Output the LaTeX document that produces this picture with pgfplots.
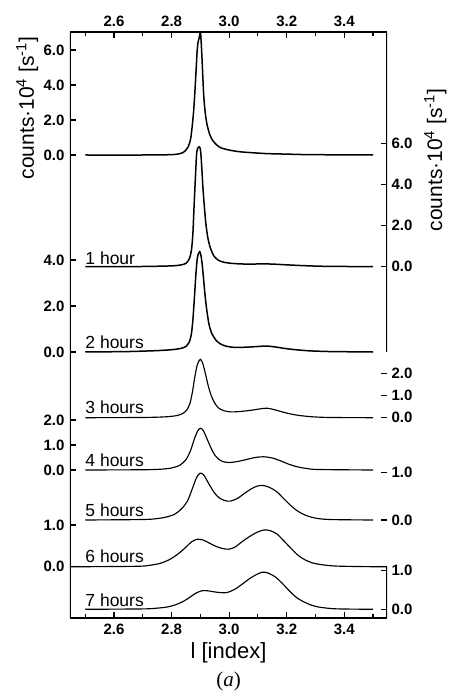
\documentclass[border=0pt]{standalone}
\usepackage{pgfplots}
\pgfplotsset{compat=1.18}
\usepackage{fontspec}
\setmainfont{Liberation Sans}
\newfontfamily\timesfont{Liberation Serif}
\pgfplotsset{
  base/.style={width=317pt,height=586pt,scale only axis,
    xmin=2.447,xmax=3.5485,at={(0pt,0pt)},anchor=south west,
    tick align=inside, major tick length=6.5pt, minor tick length=4pt,
    every tick/.style={black,line width=1.1pt},
    tick label style={font=\bfseries\fontsize{15}{15}\selectfont},
    yticklabel style={xshift=-2pt},
    xticklabel style={yshift=-2pt}},
  dataaxis/.style={base, separate axis lines,
    x axis line style={draw=none}, y axis line style={draw=none},
    xtick=\empty},
  leftlab/.style={ytick pos=left, yticklabel pos=left},
  rightlab/.style={ytick pos=right, yticklabel pos=right,
    yticklabel style={xshift=3pt}},
  curveA/.style={black, line width=1.5pt, smooth, tension=0.4},
  curveB/.style={black, line width=1.15pt, smooth, tension=0.5},
}
\begin{document}
\begin{tikzpicture}
% frame
\begin{axis}[base, separate axis lines,
  x axis line style={line width=1.2pt},
  y axis line style={draw=none}, ytick=\empty,
  ymin=0, ymax=586,
  xtick={2.6,2.8,3.0,3.2,3.4}, xticklabels={2.6,2.8,3.0,3.2,3.4},
  minor xtick={2.5,2.7,2.9,3.1,3.3,3.5},
  xtick pos=both, xticklabel pos=left]
  \draw[line width=1.2pt] (rel axis cs:0,0) -- (rel axis cs:0,1);
  \draw[line width=1.2pt] (rel axis cs:1,1) -- (rel axis cs:1,0.4539);
  \draw[line width=1.2pt] (rel axis cs:1,0.0875) -- (rel axis cs:1,0);
\end{axis}
% curve 0 (top)
\begin{axis}[dataaxis, leftlab, ymin=-26.457, ymax=7.029,
  ytick={0,2,4,6}, yticklabels={0.0,2.0,4.0,6.0},
  xtick={2.6,2.8,3.0,3.2,3.4}, xticklabels={2.6,2.8,3.0,3.2,3.4},
  xtick pos=right, xticklabel pos=right, xticklabel style={yshift=4pt}]
\addplot[curveA] coordinates {(2.50,0) (2.70,0) (2.80,0.02) (2.83,0.08) (2.845,0.2) (2.857,0.45) (2.866,0.9) (2.872,1.7) (2.877,2.6) (2.882,3.9) (2.886,5.1) (2.889,6.0) (2.892,6.45) (2.896,6.7) (2.900,7.05) (2.903,6.4) (2.906,5.4) (2.909,4.3) (2.912,3.3) (2.917,2.4) (2.923,1.75) (2.932,1.2) (2.942,0.85) (2.955,0.6) (2.97,0.42) (2.99,0.32) (3.01,0.25) (3.04,0.18) (3.08,0.13) (3.13,0.08) (3.20,0.05) (3.28,0.02) (3.5,0)};
\end{axis}
% 1 hour
\begin{axis}[dataaxis, rightlab, ymin=-17.053, ymax=11.393,
  ytick={0,2,4,6}, yticklabels={0.0,2.0,4.0,6.0}]
\addplot[curveA] coordinates {(2.50,0) (2.70,0.01) (2.80,0.04) (2.83,0.08) (2.85,0.16) (2.862,0.4) (2.869,0.8) (2.874,1.6) (2.878,2.9) (2.883,4.4) (2.887,5.5) (2.891,5.75) (2.897,5.82) (2.901,5.6) (2.905,4.8) (2.909,3.8) (2.914,2.9) (2.919,2.1) (2.926,1.4) (2.935,0.9) (2.947,0.52) (2.962,0.32) (2.98,0.22) (3.01,0.16) (3.05,0.13) (3.09,0.13) (3.12,0.14) (3.16,0.12) (3.20,0.09) (3.26,0.05) (3.33,0.02) (3.5,0)};
\node[anchor=base west, inner sep=0pt, font=\fontsize{17.5}{17.5}\selectfont] at (axis cs:2.5,0.13) {1 hour};
\end{axis}
% 2 hours
\begin{axis}[dataaxis, leftlab, ymin=-11.565, ymax=13.913,
  ytick={0,2,4}, yticklabels={0.0,2.0,4.0}]
\addplot[curveA] coordinates {(2.50,0) (2.65,0.02) (2.75,0.06) (2.80,0.1) (2.83,0.15) (2.85,0.24) (2.862,0.45) (2.869,0.8) (2.874,1.4) (2.879,2.3) (2.884,3.3) (2.889,4.05) (2.894,4.3) (2.898,4.36) (2.902,4.2) (2.906,3.85) (2.911,3.2) (2.916,2.5) (2.922,1.85) (2.93,1.2) (2.94,0.8) (2.955,0.5) (2.97,0.35) (2.99,0.25) (3.02,0.2) (3.06,0.21) (3.10,0.24) (3.13,0.26) (3.16,0.22) (3.19,0.16) (3.23,0.1) (3.28,0.05) (3.35,0.02) (3.5,0)};
\node[anchor=base west, inner sep=0pt, font=\fontsize{17.5}{17.5}\selectfont] at (axis cs:2.5,0.14) {2 hours};
\end{axis}
% 3 hours
\begin{axis}[dataaxis, rightlab, ymin=-8.982, ymax=17.296,
  ytick={0,1,2}, yticklabels={0.0,1.0,2.0}]
\addplot[curveB] coordinates {(2.50,0) (2.70,0.01) (2.78,0.04) (2.82,0.1) (2.84,0.2) (2.855,0.38) (2.865,0.7) (2.873,1.2) (2.881,1.85) (2.89,2.4) (2.90,2.62) (2.909,2.4) (2.918,1.95) (2.927,1.45) (2.936,1.05) (2.948,0.7) (2.962,0.45) (2.98,0.32) (3.005,0.26) (3.04,0.28) (3.08,0.34) (3.115,0.41) (3.135,0.42) (3.16,0.35) (3.19,0.24) (3.22,0.15) (3.25,0.09) (3.29,0.04) (3.35,0.01) (3.5,0)};
\node[anchor=base west, inner sep=0pt, font=\fontsize{17.5}{17.5}\selectfont] at (axis cs:2.5,0.17) {3 hours};
\end{axis}
% 4 hours
\begin{axis}[dataaxis, leftlab, ymin=-5.92, ymax=17.52,
  ytick={0,1,2}, yticklabels={0.0,1.0,2.0}]
\addplot[curveB] coordinates {(2.50,0) (2.70,0.01) (2.76,0.03) (2.80,0.08) (2.83,0.2) (2.85,0.42) (2.865,0.75) (2.878,1.2) (2.89,1.55) (2.90,1.67) (2.91,1.58) (2.923,1.25) (2.937,0.88) (2.95,0.6) (2.965,0.42) (2.98,0.33) (3.0,0.3) (3.03,0.34) (3.06,0.42) (3.09,0.5) (3.12,0.53) (3.15,0.48) (3.18,0.36) (3.21,0.22) (3.24,0.12) (3.27,0.06) (3.31,0.02) (3.5,0)};
\node[anchor=base west, inner sep=0pt, font=\fontsize{17.5}{17.5}\selectfont] at (axis cs:2.5,0.12) {4 hours};
\end{axis}
% 5 hours
\begin{axis}[dataaxis, rightlab, ymin=-2.072, ymax=10.317,
  ytick={0,1}, yticklabels={0.0,1.0}]
\addplot[curveB] coordinates {(2.50,0) (2.70,0.01) (2.75,0.03) (2.78,0.06) (2.81,0.12) (2.835,0.24) (2.855,0.4) (2.872,0.66) (2.887,0.9) (2.90,0.99) (2.912,0.95) (2.93,0.76) (2.948,0.58) (2.965,0.47) (2.985,0.41) (3.005,0.4) (3.03,0.46) (3.055,0.57) (3.08,0.67) (3.10,0.72) (3.118,0.73) (3.14,0.69) (3.165,0.6) (3.19,0.45) (3.215,0.3) (3.24,0.18) (3.27,0.09) (3.30,0.04) (3.35,0.01) (3.5,0)};
\node[anchor=base west, inner sep=0pt, font=\fontsize{17.5}{17.5}\selectfont] at (axis cs:2.5,0.08) {5 hours};
\end{axis}
% 6 hours
\begin{axis}[dataaxis, leftlab, ymin=-1.230, ymax=12.823,
  ytick={0,1}, yticklabels={0.0,1.0}]
\addplot[curveB] coordinates {(2.447,0) (2.50,0) (2.68,0.01) (2.72,0.03) (2.76,0.08) (2.795,0.18) (2.825,0.32) (2.85,0.47) (2.87,0.6) (2.89,0.66) (2.905,0.65) (2.925,0.59) (2.95,0.5) (2.975,0.44) (2.998,0.42) (3.02,0.47) (3.045,0.6) (3.07,0.72) (3.095,0.82) (3.12,0.88) (3.14,0.87) (3.165,0.79) (3.19,0.62) (3.215,0.44) (3.24,0.27) (3.265,0.16) (3.29,0.09) (3.32,0.05) (3.36,0.02) (3.4,0.01) (3.5,0) (3.5485,0)};
\node[anchor=base west, inner sep=0pt, font=\fontsize{17.5}{17.5}\selectfont] at (axis cs:2.5,0.09) {6 hours};
\end{axis}
% 7 hours
\begin{axis}[dataaxis, rightlab, ymin=-0.2254, ymax=14.956,
  ytick={0,1}, yticklabels={0.0,1.0}]
\addplot[curveB] coordinates {(2.50,0) (2.70,0.01) (2.75,0.03) (2.785,0.06) (2.815,0.12) (2.842,0.21) (2.865,0.32) (2.885,0.42) (2.905,0.48) (2.925,0.48) (2.95,0.45) (2.975,0.43) (2.995,0.44) (3.02,0.52) (3.045,0.65) (3.07,0.79) (3.095,0.9) (3.115,0.96) (3.135,0.94) (3.16,0.84) (3.185,0.67) (3.21,0.47) (3.235,0.3) (3.26,0.19) (3.285,0.11) (3.31,0.06) (3.34,0.03) (3.38,0.01) (3.5,0)};
\node[anchor=base west, inner sep=0pt, font=\fontsize{17.5}{17.5}\selectfont] at (axis cs:2.5,0.085) {7 hours};
\end{axis}
% labels
\node[rotate=90, anchor=base, font=\fontsize{21}{21}\selectfont] at (-36pt,510pt) {counts·10\textsuperscript{4} [s\textsuperscript{-1}]};
\node[rotate=90, anchor=base, font=\fontsize{21}{21}\selectfont] at (372pt,458pt) {counts·10\textsuperscript{4} [s\textsuperscript{-1}]};
\node[anchor=base, font=\fontsize{22}{22}\selectfont] at (158.5pt,-40pt) {l [index]};
\node[anchor=base, font=\timesfont\fontsize{21}{21}\selectfont] at (158.5pt,-68pt) {(\textit{a})};
\pgfresetboundingbox
\useasboundingbox (-70pt,-73pt) rectangle (382pt,618pt);
\end{tikzpicture}
\end{document}
